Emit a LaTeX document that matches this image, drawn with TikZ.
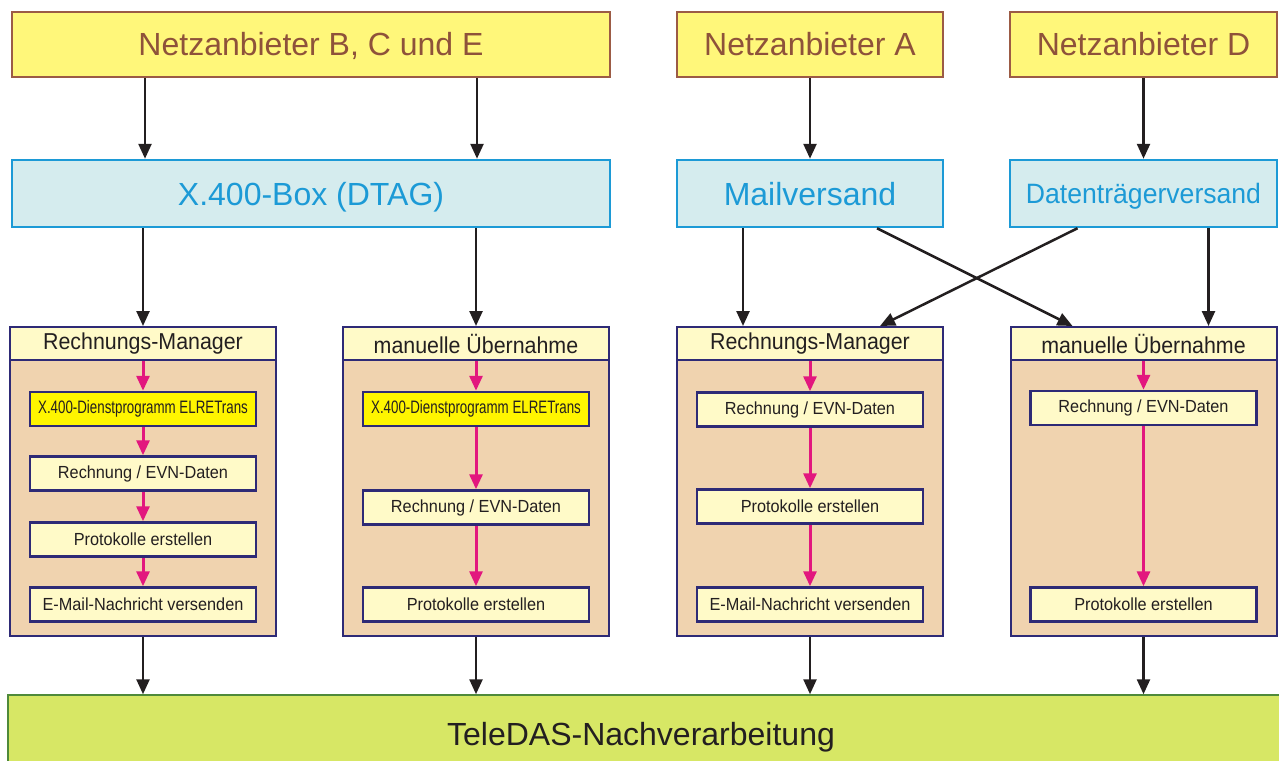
\documentclass[tikz,border=0pt]{standalone}
\usepackage{fontspec}
\setmainfont{Liberation Sans}
\newfontfamily\condf[FakeStretch=0.93]{Liberation Sans}
\newfontfamily\midf[FakeStretch=0.95]{Liberation Sans}
\newfontfamily\narrowf[FakeStretch=0.74]{Liberation Sans}
\usetikzlibrary{arrows.meta,calc}
\definecolor{topfill}{HTML}{FFF77A}
\definecolor{topbd}{HTML}{9C5B45}
\definecolor{toptext}{HTML}{8E523A}
\definecolor{bluefill}{HTML}{D5ECEE}
\definecolor{bluebd}{HTML}{1C9AD6}
\definecolor{bluetext}{HTML}{1C9AD6}
\definecolor{tanfill}{HTML}{F0D3AF}
\definecolor{navy}{HTML}{2E2A76}
\definecolor{hdfill}{HTML}{FFFAC8}
\definecolor{pinkarr}{HTML}{E2177E}
\definecolor{greenfill}{HTML}{D7E765}
\definecolor{greenbd}{HTML}{4F8A3A}
\definecolor{arrblack}{HTML}{231F20}
\definecolor{xyellow}{HTML}{FFF500}
\tikzset{
  topbox/.style={draw=topbd, fill=topfill, line width=2pt, text=toptext,
    font=\fontsize{32}{36}\selectfont, minimum height=65pt, inner sep=0pt,
    text height=23pt, text depth=0pt},
  bluebox/.style={draw=bluebd, fill=bluefill, line width=2.5pt, text=bluetext,
    font=\fontsize{32}{36}\selectfont, minimum height=67pt, inner sep=0pt,
    text height=23pt, text depth=0pt},
  panel/.style={draw=navy, fill=tanfill, line width=2pt, minimum width=266pt,
    minimum height=309pt, inner sep=0pt},
  phead/.style={draw=navy, fill=hdfill, line width=2pt, minimum width=266pt,
    minimum height=33pt, inner sep=0pt, text=arrblack,
    font=\condf\fontsize{23}{26}\selectfont},
  innerbox/.style={draw=navy, fill=hdfill, line width=2.5pt, minimum width=226pt,
    minimum height=34pt, inner sep=0pt, text=arrblack,
    font=\condf\fontsize{17.5}{20}\selectfont},
  innerx/.style={innerbox, fill=xyellow, font=\narrowf\fontsize{18}{20}\selectfont},
  arr/.style={line width=2.5pt, draw=arrblack, -{Triangle[length=15pt,width=13pt]}},
  parr/.style={line width=3pt, draw=pinkarr, -{Triangle[length=15pt,width=13pt]}},
}
\begin{document}
\begin{tikzpicture}[x=1pt,y=-1pt]
\useasboundingbox (0,0) rectangle (1279,760);
\clip (0,0) rectangle (1279,760);
% top row
\node[topbox, minimum width=598pt] (t1) at (311,44.5) {Netzanbieter B, C und E};
\node[topbox, minimum width=266pt] (tA) at (810,44.5) {Netzanbieter A};
\node[topbox, minimum width=267pt] (tD) at (1143.5,44.5) {Netzanbieter D};
% blue row
\node[bluebox, minimum width=598pt] (b1) at (311,193.5) {X.400-Box (DTAG)};
\node[bluebox, minimum width=266pt] (bA) at (810,193.5) {Mailversand};
\node[bluebox, minimum width=267pt, font=\midf\fontsize{28}{30}\selectfont,
  text height=20pt] (bD) at (1143.5,193.5) {Datenträgerversand};
% panels
\node[panel] (p1) at (143,481.5) {};
\node[panel] (p2) at (476,481.5) {};
\node[panel] (p3) at (810,481.5) {};
\node[panel] (p4) at (1143.5,481.5) {};
\node[phead] (h1) at (143,343.5) {Rechnungs-Manager};
\node[phead] (h2) at (476,343.5) {manuelle Übernahme};
\node[phead] (h3) at (810,343.5) {Rechnungs-Manager};
\node[phead] (h4) at (1143.5,343.5) {manuelle Übernahme};
% panel 1
\node[innerx] (a1) at (143,409) {X.400-Dienstprogramm ELRETrans};
\node[innerbox] (a2) at (143,473.5) {Rechnung / EVN-Daten};
\node[innerbox] (a3) at (143,539.5) {Protokolle erstellen};
\node[innerbox] (a4) at (143,604.5) {E-Mail-Nachricht versenden};
% panel 2
\node[innerx] (c1) at (476,409) {X.400-Dienstprogramm ELRETrans};
\node[innerbox] (c2) at (476,507.5) {Rechnung / EVN-Daten};
\node[innerbox] (c3) at (476,604.5) {Protokolle erstellen};
% panel 3
\node[innerbox] (d1) at (810,409.5) {Rechnung / EVN-Daten};
\node[innerbox] (d2) at (810,506.5) {Protokolle erstellen};
\node[innerbox] (d3) at (810,604.5) {E-Mail-Nachricht versenden};
% panel 4
\node[innerbox] (e1) at (1143.5,408) {Rechnung / EVN-Daten};
\node[innerbox] (e2) at (1143.5,604.5) {Protokolle erstellen};
% pink arrows
\draw[parr] (h1.south) -- (a1.north);
\draw[parr] (a1.south) -- (a2.north);
\draw[parr] (a2.south) -- (a3.north);
\draw[parr] (a3.south) -- (a4.north);
\draw[parr] (h2.south) -- (c1.north);
\draw[parr] (c1.south) -- (c2.north);
\draw[parr] (c2.south) -- (c3.north);
\draw[parr] (h3.south) -- (d1.north);
\draw[parr] (d1.south) -- (d2.north);
\draw[parr] (d2.south) -- (d3.north);
\draw[parr] (h4.south) -- (e1.north);
\draw[parr] (e1.south) -- (e2.north);
% green box
\node[draw=greenbd, fill=greenfill, line width=1.5pt, minimum width=1282pt,
  minimum height=80pt, inner sep=0pt] (g) at (649,735) {};
\node[text=arrblack, font=\fontsize{32}{36}\selectfont, inner sep=0pt,
  text height=23pt, text depth=0pt] (gt) at (641,733.5) {TeleDAS-Nachverarbeitung};
% black arrows top -> blue
\draw[arr] ([xshift=-166pt]t1.south) -- ([xshift=-166pt]b1.north);
\draw[arr] ([xshift=166pt]t1.south) -- ([xshift=166pt]b1.north);
\draw[arr] (tA.south) -- (bA.north);
\draw[arr] (tD.south) -- (tD.south |- bD.north);
% blue -> panels
\draw[arr] (b1.south -| h1.north) -- (h1.north);
\draw[arr] (b1.south -| h2.north) -- (h2.north);
\draw[arr] ([xshift=-67pt]bA.south) -- ([xshift=-67pt]h3.north);
\draw[arr] ([xshift=65pt]bD.south) -- ([xshift=65pt]h4.north);
\draw[arr] ([xshift=67pt]bA.south) -- ([xshift=-71pt]h4.north);
\draw[arr] ([xshift=-66pt]bD.south) -- ([xshift=70pt]h3.north);
% panels -> green
\draw[arr] (p1.south) -- (p1.south |- g.north);
\draw[arr] (p2.south) -- (p2.south |- g.north);
\draw[arr] (p3.south) -- (p3.south |- g.north);
\draw[arr] (p4.south) -- (p4.south |- g.north);
\end{tikzpicture}
\end{document}
